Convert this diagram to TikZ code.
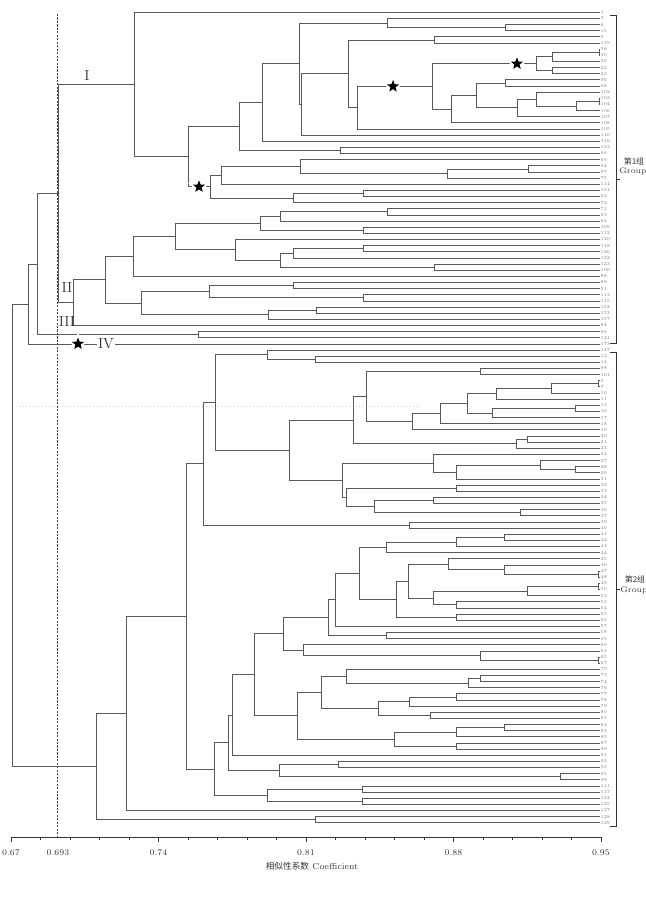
\documentclass[tikz,border=0pt]{standalone}
\usepackage{fontspec}
\newfontfamily\cjk{Noto Sans CJK SC}
\usetikzlibrary{calc,shapes.geometric,positioning}
\tikzset {
branch/.style={draw=black!65,line width=0.55pt},
cutline/.style={draw=black!75,line width=0.5pt,dash pattern=on 1.6pt off 1pt},
axisline/.style={draw=black!80,line width=0.5pt},
starmark/.style={star,star points=5,star point ratio=2.3,minimum size=9.5pt,inner sep=0pt,fill=black,preaction={draw=white,line width=3pt}},
clustername/.style={font=\fontsize{11}{11}\selectfont,inner sep=0.5pt,text=black!80},
leaflab/.style={font=\fontsize{3.4}{3.4}\selectfont,text=blue!30!black!55,inner sep=0.3pt,anchor=west},
ticklab/.style={font=\fontsize{6.5}{6.5}\selectfont,text=black!80},
grouplab/.style={font=\fontsize{6}{6}\selectfont,inner sep=0.5pt,text=black!80}
}
% one clade: name, x of the join, upper child, lower child
\newcommand{\clade}[4]{%
  \coordinate (#1x) at (#2,0);
  \path (#1x |- #3) coordinate (#1top) (#1x |- #4) coordinate (#1bot);
  \draw[branch] (#3) -- (#1top) -- (#1bot) -- (#4);
  \coordinate (#1) at ($(#1top)!0.5!(#1bot)$);
}

\begin{document}
\begin{tikzpicture}
[x=0.75pt,y=-0.75pt]
\useasboundingbox (0,0) rectangle (646,911);
\draw[draw=black!20,dotted] (20,406) -- (420,406);
\draw[cutline] (57.7,14) -- (57.7,839);

% leaves
\foreach \k in {1,...,133} \coordinate (l\k) at (600,{12.3+6.14*(\k-1)});

% group 1, cluster I
\clade{c3t4}{505}{l3}{l4}
\clade{c2t4}{387.3}{l2}{c3t4}
\clade{c5t6}{434.3}{l5}{l6}
\clade{c7t8}{599}{l7}{l8}
\clade{c7t9}{552.3}{c7t8}{l9}
\clade{c10t11}{552.3}{l10}{l11}
\clade{c7t11}{536}{c7t9}{c10t11}
\clade{c12t13}{505}{l12}{l13}
\clade{c15t16}{599}{l15}{l16}
\clade{c15t17}{576.7}{c15t16}{l17}
\clade{c14t17}{536}{l14}{c15t17}
\clade{c14t18}{517.3}{c14t17}{l18}
\clade{c12t18}{476}{c12t13}{c14t18}
\clade{c12t19}{451.7}{c12t18}{l19}
\clade{c7t19}{432.3}{c7t11}{c12t19}
\clade{c7t20}{357.7}{c7t19}{l20}
\clade{c5t20}{348.3}{c5t6}{c7t20}
\clade{c5t21}{301.3}{c5t20}{l21}
\clade{c2t21}{299}{c2t4}{c5t21}
\clade{c2t22}{262.3}{c2t21}{l22}
\clade{c23t24}{340}{l23}{l24}
\clade{c2t24}{239.3}{c2t22}{c23t24}
\clade{c26t27}{528.7}{l26}{l27}
\clade{c26t28}{447}{c26t27}{l28}
\clade{c25t28}{300}{l25}{c26t28}
\clade{c25t29}{221.7}{c25t28}{l29}
\clade{c30t31}{363.3}{l30}{l31}
\clade{c30t32}{293.3}{c30t31}{l32}
\clade{c25t32}{210.3}{c25t29}{c30t32}
\clade{c2t32}{188.7}{c2t24}{c25t32}
\clade{c1t32}{134.7}{l1}{c2t32}

% group 1, clusters II to IV
\clade{c33t34}{387.3}{l33}{l34}
\clade{c33t35}{280.7}{c33t34}{l35}
\clade{c36t37}{363.3}{l36}{l37}
\clade{c33t37}{260.7}{c33t35}{c36t37}
\clade{c39t40}{363.3}{l39}{l40}
\clade{c39t41}{293.3}{c39t40}{l41}
\clade{c42t43}{434.3}{l42}{l43}
\clade{c39t43}{280.7}{c39t41}{c42t43}
\clade{c38t43}{235.3}{l38}{c39t43}
\clade{c33t43}{175.3}{c33t37}{c38t43}
\clade{c33t44}{133.3}{c33t43}{l44}
\clade{c45t46}{293.3}{l45}{l46}
\clade{c47t48}{363.3}{l47}{l48}
\clade{c45t48}{209.3}{c45t46}{c47t48}
\clade{c49t50}{316}{l49}{l50}
\clade{c49t51}{268.3}{c49t50}{l51}
\clade{c45t51}{141.7}{c45t48}{c49t51}
\clade{c33t51}{105}{c33t44}{c45t51}
\clade{c33t52}{73.3}{c33t51}{l52}
\clade{c1t52}{58.3}{c1t32}{c33t52}
\clade{c53t54}{198}{l53}{l54}
\clade{c1t54}{37.7}{c1t52}{c53t54}
\clade{c1t55}{28.3}{c1t54}{l55}

% group 2, upper part
\clade{c57t58}{315.7}{l57}{l58}
\clade{c56t58}{267.7}{l56}{c57t58}
\clade{c59t60}{480.7}{l59}{l60}
\clade{c61t62}{598}{l61}{l62}
\clade{c61t63}{551.7}{c61t62}{l63}
\clade{c61t64}{496.7}{c61t63}{l64}
\clade{c65t66}{575.3}{l65}{l66}
\clade{c65t67}{492.7}{c65t66}{l67}
\clade{c61t67}{467.3}{c61t64}{c65t67}
\clade{c61t68}{440}{c61t67}{l68}
\clade{c61t69}{412.7}{c61t68}{l69}
\clade{c59t69}{366}{c59t60}{c61t69}
\clade{c70t71}{527.7}{l70}{l71}
\clade{c70t72}{516.7}{c70t71}{l72}
\clade{c59t72}{353.3}{c59t69}{c70t72}
\clade{c75t76}{575.3}{l75}{l76}
\clade{c74t76}{540}{l74}{c75t76}
\clade{c74t77}{456.7}{c74t76}{l77}
\clade{c73t77}{433.3}{l73}{c74t77}
\clade{c78t79}{456.7}{l78}{l79}
\clade{c80t81}{433.3}{l80}{l81}
\clade{c82t83}{520}{l82}{l83}
\clade{c80t83}{374.7}{c80t81}{c82t83}
\clade{c78t83}{346.7}{c78t79}{c80t83}
\clade{c73t83}{342.7}{c73t77}{c78t83}
\clade{c59t83}{289.3}{c59t72}{c73t83}
\clade{c56t83}{215.3}{c56t58}{c59t83}
\clade{c84t85}{409.3}{l84}{l85}
\clade{c56t85}{203.3}{c56t83}{c84t85}

% group 2, lower part
\clade{c86t87}{504.3}{l86}{l87}
\clade{c86t88}{456.7}{c86t87}{l88}
\clade{c86t89}{386}{c86t88}{l89}
\clade{c92t93}{598}{l92}{l93}
\clade{c91t93}{504.3}{l91}{c92t93}
\clade{c90t93}{448.3}{l90}{c91t93}
\clade{c94t95}{598}{l94}{l95}
\clade{c94t96}{527.7}{c94t95}{l96}
\clade{c97t98}{456.7}{l97}{l98}
\clade{c94t98}{433.3}{c94t96}{c97t98}
\clade{c90t98}{408.3}{c90t93}{c94t98}
\clade{c99t100}{456.7}{l99}{l100}
\clade{c90t100}{396.7}{c90t98}{c99t100}
\clade{c86t100}{359.3}{c86t89}{c90t100}
\clade{c86t101}{335.3}{c86t100}{l101}
\clade{c102t103}{386}{l102}{l103}
\clade{c86t103}{328.7}{c86t101}{c102t103}
\clade{c106t107}{598}{l106}{l107}
\clade{c105t107}{480.7}{l105}{c106t107}
\clade{c104t107}{303.3}{l104}{c105t107}
\clade{c86t107}{283}{c86t103}{c104t107}
\clade{c109t110}{480.7}{l109}{l110}
\clade{c109t111}{468.3}{c109t110}{l111}
\clade{c108t111}{346.7}{l108}{c109t111}
\clade{c112t113}{456.7}{l112}{l113}
\clade{c112t114}{409.3}{c112t113}{l114}
\clade{c115t116}{430}{l115}{l116}
\clade{c112t116}{378.3}{c112t114}{c115t116}
\clade{c108t116}{321.7}{c108t111}{c112t116}
\clade{c117t118}{504.3}{l117}{l118}
\clade{c117t119}{456.7}{c117t118}{l119}
\clade{c120t121}{456.7}{l120}{l121}
\clade{c117t121}{394.3}{c117t119}{c120t121}
\clade{c108t121}{297.7}{c108t116}{c117t121}
\clade{c86t121}{254.3}{c86t107}{c108t121}
\clade{c86t122}{232.3}{c86t121}{l122}
\clade{c123t124}{338.3}{l123}{l124}
\clade{c125t126}{560}{l125}{l126}
\clade{c123t126}{279.7}{c123t124}{c125t126}
\clade{c86t126}{228.3}{c86t122}{c123t126}
\clade{c127t128}{362.3}{l127}{l128}
\clade{c129t130}{362.3}{l129}{l130}
\clade{c127t130}{267.7}{c127t128}{c129t130}
\clade{c86t130}{214.3}{c86t126}{c127t130}
\clade{c56t130}{186.7}{c56t85}{c86t130}
\clade{c56t131}{126.7}{c56t130}{l131}
\clade{c132t133}{315.3}{l132}{l133}
\clade{c56t133}{96}{c56t131}{c132t133}
\clade{root}{12}{c1t55}{c56t133}

% stars and cluster names
\node[starmark] (star a) at ($(c25t32)+(-11.3,0)$) {};
\node[starmark] (star b) at ($(c7t19)+(-39.3,0)$) {};
\node[starmark] (star c) at ($(c7t11)+(-19,0)$) {};
\node[starmark] (star d) at ($(l55)+(-522,0)$) {};
\node[clustername] (name I) at (87,75) {I};
\node[clustername] (name II) at (67,287) {II};
\node[clustername] (name III) at (67,321) {III};
\node[clustername,fill=white] (name IV) at ($(l55)+(-494,0)$) {IV};

% leaf labels
\foreach \t [count=\k] in {1,3,6,15,9,119,38,30,26,22,25,96,68,102,103,104,106,107,108,105,110,116,133,66,69,94,97,75,114,161,62,72,71,63,64,109,112,120,118,126,122,123,100,88,89,51,113,115,152,153,157,84,86,121,173,147,12,14,98,101,5,7,10,11,13,16,17,18,19,20,21,23,24,27,28,29,31,32,33,34,35,36,37,39,40,41,42,43,44,45,46,47,48,49,50,52,53,54,55,56,57,58,59,60,61,65,67,70,73,74,76,77,78,79,80,81,82,83,85,87,90,91,92,93,95,99,111,117,124,125,127,128,129}
  \node[leaflab] (t\k) at (l\k) {\t};

% group brackets
\draw[axisline] (610,15) -- (616,15) -- (616,343) -- (610,343);
\draw[axisline] (616,179) -- (620,179);
\node[grouplab] (g1a) at (634,161) {\cjk 第1组};
\node[grouplab] (g1b) at (633,171) {Group};
\draw[axisline] (610,352) -- (616,352) -- (616,826) -- (610,826);
\draw[axisline] (616,589) -- (620,589);
\node[grouplab] (g2a) at (635,579) {\cjk 第2组};
\node[grouplab] (g2b) at (634,590) {Group};

% axis
\draw[axisline] (11,837) -- (601,837);
\foreach \i in {0,...,20} \draw[axisline] ({11+29.5*\i},837) -- ++(0,3);
\foreach \i in {0,5,...,20} \draw[axisline] ({11+29.5*\i},837) -- ++(0,5);
\foreach \xv/\lab [count=\n] in {11/0.67,58/0.693,158.5/0.74,306/0.81,453.5/0.88,601/0.95}
  \node[ticklab] (tick\n) at (\xv,853) {\lab};
\node[ticklab] (axis title) at (312,866) {{\cjk 相似性系数} Coefficient};
\end{tikzpicture}
\end{document}
